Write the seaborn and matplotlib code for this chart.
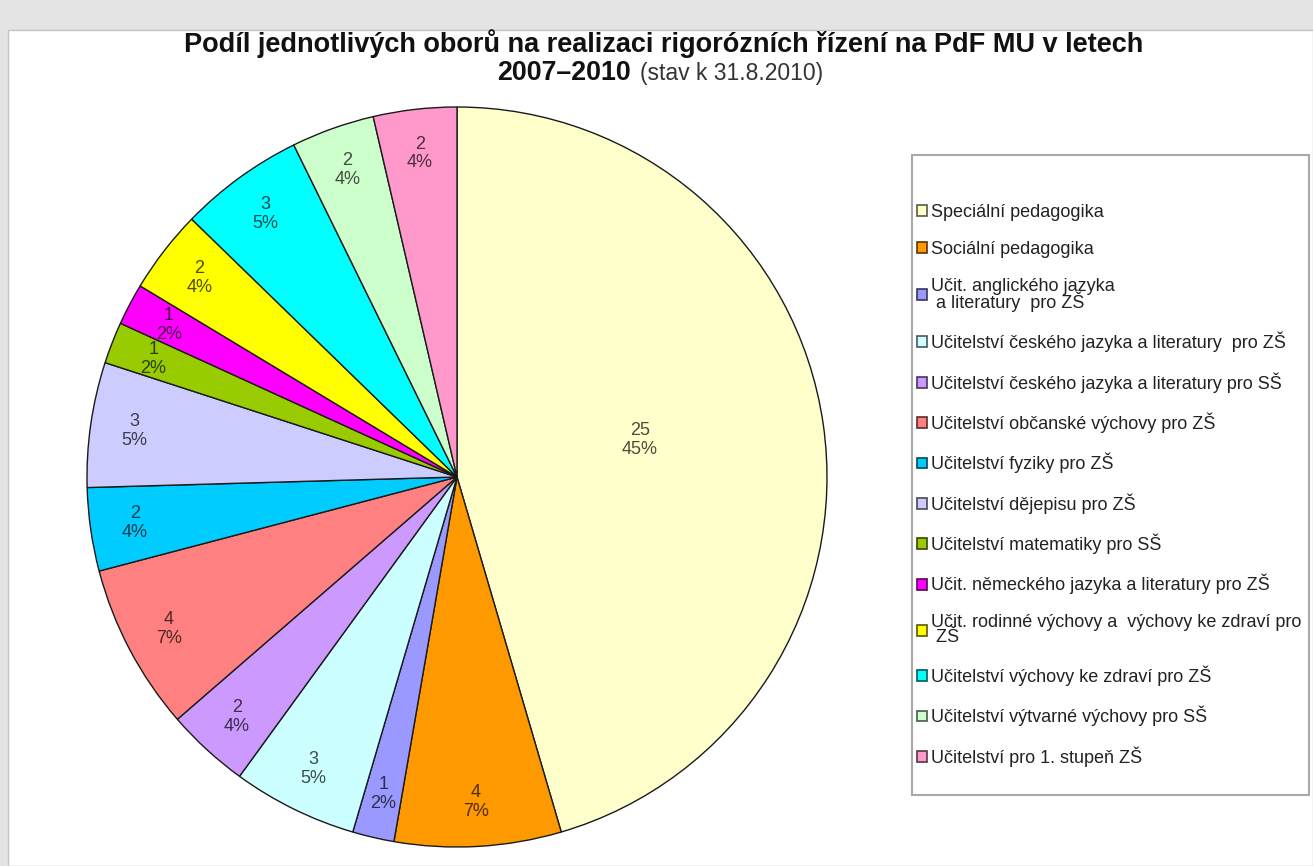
import numpy as np
import matplotlib
matplotlib.use("Agg")
import matplotlib.pyplot as plt
import matplotlib.colors as mcolors
from matplotlib.patches import Rectangle
import seaborn as sns

# Data
obory = [
    "Speciální pedagogika",
    "Sociální pedagogika",
    "Učit. anglického jazyka\n a literatury  pro ZŠ",
    "Učitelství českého jazyka a literatury  pro ZŠ",
    "Učitelství českého jazyka a literatury pro SŠ",
    "Učitelství občanské výchovy pro ZŠ",
    "Učitelství fyziky pro ZŠ",
    "Učitelství dějepisu pro ZŠ",
    "Učitelství matematiky pro SŠ",
    "Učit. německého jazyka a literatury pro ZŠ",
    "Učit. rodinné výchovy a  výchovy ke zdraví pro\n ZŠ",
    "Učitelství výchovy ke zdraví pro ZŠ",
    "Učitelství výtvarné výchovy pro SŠ",
    "Učitelství pro 1. stupeň ZŠ",
]
pocty = [25, 4, 1, 3, 2, 4, 2, 3, 1, 1, 2, 3, 2, 2]
barvy = ["#FFFFCC", "#FF9900", "#9999FF", "#CCFFFF", "#CC99FF", "#FF8080",
         "#00CCFF", "#CCCCFF", "#99CC00", "#FF00FF", "#FFFF00", "#00FFFF",
         "#CCFFCC", "#FF99CC"]

sns.set_style("white")
plt.rcParams["font.family"] = ["Liberation Sans", "DejaVu Sans"]

W, H = 1313, 866
fig = plt.figure(figsize=(W / 100, H / 100), dpi=100, facecolor="#e4e4e4")
# white panel
fig.patches.append(Rectangle((8 / W, 0), 1 - 8 / W, 1 - 30 / H,
                             transform=fig.transFigure, facecolor="white",
                             edgecolor="#c4c4c4", lw=1, zorder=-1))
# legend box
fig.patches.append(Rectangle((912 / W, 1 - 795 / H), 397 / W, 640 / H,
                             transform=fig.transFigure, facecolor="white",
                             edgecolor="#a8a8a8", lw=1.5, zorder=0))

ax = fig.add_axes([(457 - 370) / W, (H - 477 - 370) / H, 740 / W, 740 / H])
wedges, _ = ax.pie(pocty, colors=barvy, startangle=90, counterclock=False,
                   radius=1.0,
                   wedgeprops=dict(edgecolor="#1a1a1a", linewidth=1.0))
ax.set_xlim(-1, 1)
ax.set_ylim(-1, 1)
ax.set_aspect("equal")
ax.axis("off")

celkem = sum(pocty)
for w, n, c in zip(wedges, pocty, barvy):
    ang = np.deg2rad((w.theta1 + w.theta2) / 2)
    r = 0.5 if n / celkem > 0.3 else 0.88
    tc = np.array(mcolors.to_rgb(c)) * 0.3
    y = r * np.sin(ang) + (0.03 if n / celkem > 0.3 else 0)
    ax.text(r * np.cos(ang), y, f"{n}\n{round(100 * n / celkem)}%",
            ha="center", va="center", fontsize=13, color=tc, linespacing=1.15)

# Title
fig.text(664 / W, 1 - 52 / H, "Podíl jednotlivých oborů na realizaci rigorózních řízení na PdF MU v letech",
         ha="center", va="baseline", fontsize=19.5, fontweight="bold", color="#111111")
fig.text(497 / W, 1 - 80 / H, "2007–2010", ha="left", va="baseline",
         fontsize=19.3, fontweight="bold", color="#111111")
fig.text(640 / W, 1 - 80 / H, "(stav k 31.8.2010)", ha="left", va="baseline",
         fontsize=16.5, color="#333333")

# Legend
handles = [Rectangle((0, 0), 1, 1, facecolor=c,
                     edgecolor=np.array(mcolors.to_rgb(c)) * 0.35, lw=1.2) for c in barvy]
leg = fig.legend(handles, obory, loc="upper left",
                 bbox_to_anchor=(917 / W, 1 - 204 / H),
                 frameon=False, fontsize=13, handlelength=0.55, handleheight=0.55,
                 handletextpad=0.25, labelspacing=1.1, borderpad=0, borderaxespad=0)
for t in leg.get_texts():
    t.set_color("#222222")
    t.set_linespacing(0.8)

fig.savefig("out.png", dpi=100, facecolor=fig.get_facecolor())
